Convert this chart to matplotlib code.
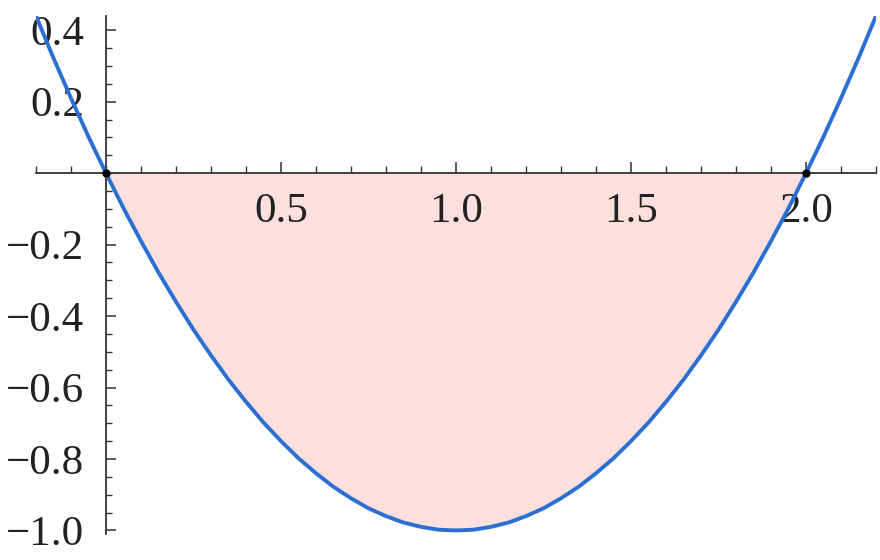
import matplotlib
matplotlib.use('Agg')
import matplotlib.pyplot as plt
from matplotlib.ticker import MultipleLocator, FixedLocator

# values
x_vals = [-0.2, -0.15, -0.1, -0.05, 0.0, 0.05, 0.1, 0.15, 0.2, 0.25, 0.3, 0.35, 0.4,
          0.45, 0.5, 0.55, 0.6, 0.65, 0.7, 0.75, 0.8, 0.85, 0.9, 0.95, 1.0,
          1.05, 1.1, 1.15, 1.2, 1.25, 1.3, 1.35, 1.4, 1.45, 1.5, 1.55, 1.6, 1.65,
          1.7, 1.75, 1.8, 1.85, 1.9, 1.95, 2.0, 2.05, 2.1, 2.15, 2.2]
y_vals = [0.44, 0.322, 0.21, 0.102, 0.0, -0.098, -0.19, -0.278, -0.36, -0.438, -0.51, -0.578, -0.64,
          -0.698, -0.75, -0.798, -0.84, -0.878, -0.91, -0.938, -0.96, -0.978, -0.99, -0.998, -1.0,
          -0.998, -0.99, -0.978, -0.96, -0.938, -0.91, -0.878, -0.84, -0.798, -0.75, -0.698, -0.64, -0.578,
          -0.51, -0.438, -0.36, -0.278, -0.19, -0.098, 0.0, 0.102, 0.21, 0.322, 0.44]
roots_x = [0.0, 2.0]
roots_y = [0.0, 0.0]
x_ticks = [0.5, 1.0, 1.5, 2.0]
y_ticks = [-1.0, -0.8, -0.6, -0.4, -0.2, 0.2, 0.4]

plt.rcParams['font.family'] = ['Liberation Serif', 'DejaVu Serif']

fig = plt.figure(figsize=(8.8, 5.6), dpi=100)
ax = fig.add_axes([36 / 880, 26 / 560, 840 / 880, 518 / 560])

# shaded region between curve and x-axis, from 0 to 2
fx = [x for x in x_vals if 0.0 <= x <= 2.0]
fy = [y for x, y in zip(x_vals, y_vals) if 0.0 <= x <= 2.0]
ax.fill_between(fx, fy, 0, color='#fde0de', lw=0, zorder=1)

ax.plot(x_vals, y_vals, color='#2b6fd2', lw=2.8, zorder=3,
        solid_capstyle='round', solid_joinstyle='round')
ax.plot(roots_x, roots_y, 'o', color='black', ms=5, zorder=4)

ax.set_xlim(-0.2, 2.2)
ax.set_ylim(-1.01, 0.44)

for s in ['top', 'right']:
    ax.spines[s].set_visible(False)
ax.spines['left'].set_position(('data', 0))
ax.spines['bottom'].set_position(('data', 0))
for s in ['left', 'bottom']:
    ax.spines[s].set_color('#333333')
    ax.spines[s].set_linewidth(1.3)
    ax.spines[s].set_zorder(2)

ax.xaxis.set_major_locator(FixedLocator(x_ticks))
ax.xaxis.set_minor_locator(MultipleLocator(0.1))
ax.yaxis.set_major_locator(FixedLocator(y_ticks))
ax.yaxis.set_minor_locator(MultipleLocator(0.05))
ax.set_xticklabels([f'{v:.1f}' for v in x_ticks])
ax.set_yticklabels([f'{v:.1f}'.replace('-', '\u2212') for v in y_ticks])

ax.tick_params(axis='x', which='major', direction='in', length=8, width=1.1,
               color='#333333', labelsize=31, pad=14)
ax.tick_params(axis='x', which='minor', direction='in', length=5, width=1.0, color='#333333')
ax.tick_params(axis='y', which='major', direction='in', length=7, width=1.1,
               color='#333333', labelsize=31, pad=16)
ax.tick_params(axis='y', which='minor', direction='in', length=4, width=1.0, color='#333333')
for lab in ax.get_xticklabels() + ax.get_yticklabels():
    lab.set_color('#222222')

fig.savefig('out.png', dpi=100)
